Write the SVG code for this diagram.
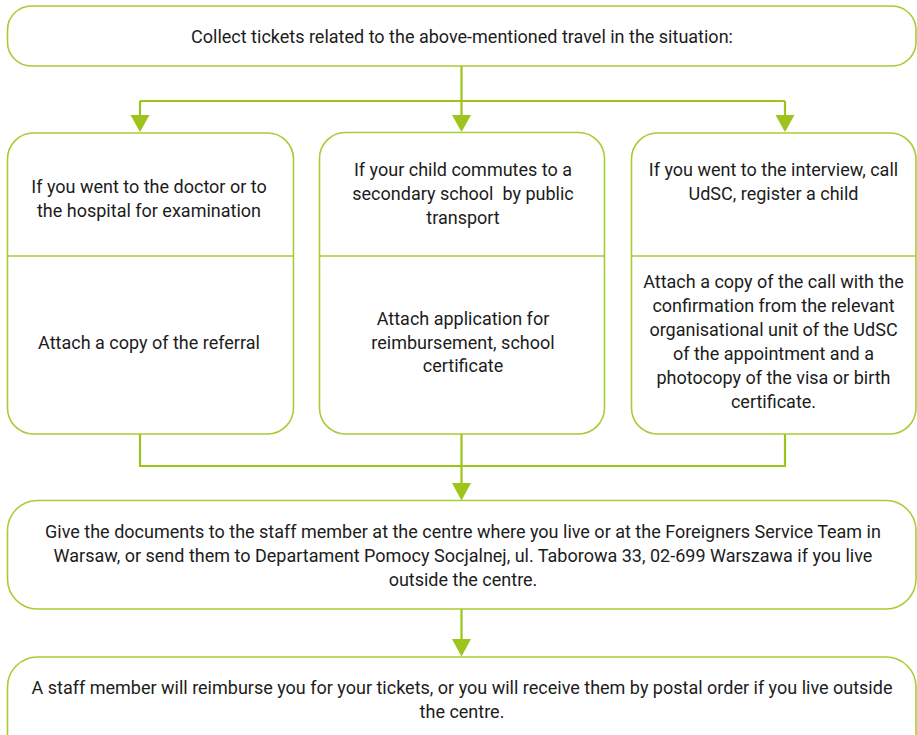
<svg xmlns="http://www.w3.org/2000/svg" width="917" height="735" viewBox="0 0 917 735">
<style>
.box{fill:#fff;stroke:#a6cd35;stroke-width:1.6}
.div{stroke:#a6cd35;stroke-width:1.6}
.ln{fill:none;stroke:#9dc41a;stroke-width:2.2}
.ah{fill:#9dc41a}
text{font-family:Roboto,"Liberation Sans",sans-serif;font-size:18px;fill:#1c1c1c;text-anchor:middle}
</style>
<rect width="917" height="735" fill="#fff"/>
<g id="connectors">
<path class="ln" d="M461.5 66 V116 M140 101 H785 M140 101 V116 M785 101 V116"/>
<polygon class="ah" points="130.5,115 149.5,115 140,132"/>
<polygon class="ah" points="452,115 471,115 461.5,132"/>
<polygon class="ah" points="775.5,115 794.5,115 785,132"/>
<path class="ln" d="M140 434 V466 H785 V434 M461.5 434 V484"/>
<polygon class="ah" points="452,483 471,483 461.5,500.5"/>
<path class="ln" d="M461.5 609 V640"/>
<polygon class="ah" points="452,639 471,639 461.5,656.5"/>
</g>
<g id="n-top">
<rect class="box" x="7.5" y="6" width="908.5" height="60" rx="24"/>
<text x="462" y="43">Collect tickets related to the above-mentioned travel in the situation:</text>
</g>
<g id="n-doctor">
<rect class="box" x="7.5" y="133" width="286" height="301" rx="26"/>
<line class="div" x1="7.5" y1="256" x2="293.5" y2="256"/>
<text x="149" y="193">If you went to the doctor or to</text>
<text x="149" y="217">the hospital for examination</text>
<text x="149" y="349">Attach a copy of the referral</text>
</g>
<g id="n-school">
<rect class="box" x="319.5" y="132.5" width="285" height="301.5" rx="26"/>
<line class="div" x1="319.5" y1="256" x2="604.5" y2="256"/>
<text x="463" y="176">If your child commutes to a</text>
<text x="463" y="200" xml:space="preserve">secondary school  by public</text>
<text x="463" y="224">transport</text>
<text x="463" y="325">Attach application for</text>
<text x="463" y="349">reimbursement, school</text>
<text x="463" y="372">certificate</text>
</g>
<g id="n-interview">
<rect class="box" x="631.5" y="133" width="284.5" height="301" rx="26"/>
<line class="div" x1="631.5" y1="256" x2="916" y2="256"/>
<text x="773.5" y="176">If you went to the interview, call</text>
<text x="773.5" y="200">UdSC, register a child</text>
<text x="773.5" y="288">Attach a copy of the call with the</text>
<text x="773.5" y="312">confirmation from the relevant</text>
<text x="773.5" y="336">organisational unit of the UdSC</text>
<text x="773.5" y="360">of the appointment and a</text>
<text x="773.5" y="384">photocopy of the visa or birth</text>
<text x="773.5" y="408">certificate.</text>
</g>
<g id="n-give">
<rect class="box" x="7.5" y="500.5" width="908.5" height="108.5" rx="30"/>
<text x="463" y="538">Give the documents to the staff member at the centre where you live or at the Foreigners Service Team in</text>
<text x="463" y="562">Warsaw, or send them to Departament Pomocy Socjalnej, ul. Taborowa 33, 02-699 Warszawa if you live</text>
<text x="463" y="586">outside the centre.</text>
</g>
<g id="n-reimburse">
<rect class="box" x="7.5" y="657" width="908.5" height="110" rx="30"/>
<text x="462" y="694">A staff member will reimburse you for your tickets, or you will receive them by postal order if you live outside</text>
<text x="462" y="718">the centre.</text>
</g>
</svg>
